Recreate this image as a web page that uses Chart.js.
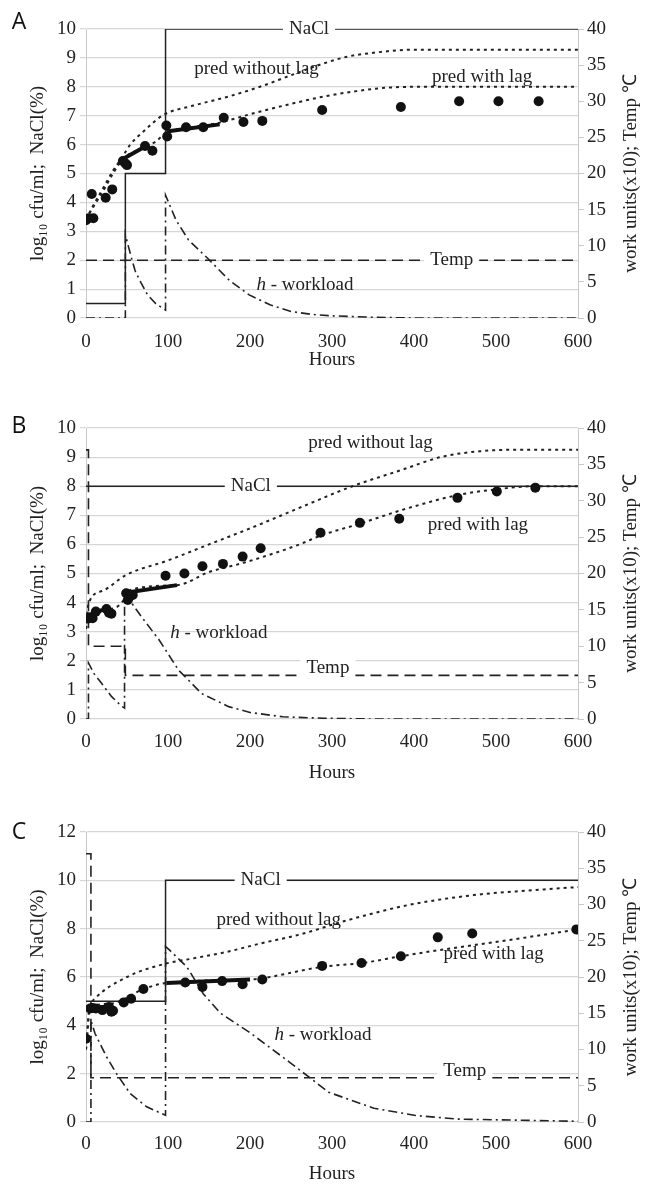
<!DOCTYPE html>
<html>
<head>
<meta charset="utf-8">
<script src="https://cdn.jsdelivr.net/npm/chart.js@4"></script>
<style>
  body { margin: 0; background: #fff; }
  canvas { position: absolute; left: 0; }
</style>
</head>
<body>
<canvas id="chartA" width="650" height="370" style="top:0px"></canvas>
<canvas id="chartB" width="650" height="393" style="top:390px"></canvas>
<canvas id="chartC" width="650" height="394" style="top:790px"></canvas>
<script>
/* global Chart */

// each series is a list of [hours, value]

// panel A
const aObserved = [[0, 3.38], [3, 3.45], [9, 3.45], [7, 4.29], [24, 4.16], [32, 4.45], [45, 5.43], [48, 5.35], [50, 5.29],
  [72, 5.95], [81, 5.79], [98, 6.66], [99, 6.28], [122, 6.6], [143, 6.6], [168, 6.93], [192, 6.78], [215, 6.82],
  [288, 7.2], [384, 7.3], [455, 7.5], [503, 7.5], [552, 7.5]];
const aFitted1 = [[45, 5.5], [70, 5.9]];
const aFitted2 = [[98, 6.45], [163, 6.7]];
const aPredNoLag = [[0, 3.4], [7, 3.8], [21, 4.5], [33, 5.1], [45, 5.6], [54, 6.0], [70, 6.45], [94, 7.02], [131, 7.35],
  [172, 7.65], [212, 8.0], [250, 8.4], [289, 8.8], [320, 9.05], [358, 9.2], [395, 9.28], [600, 9.28]];
const aPredLag = [[0, 3.4], [7, 3.75], [21, 4.4], [33, 5.0], [45, 5.5], [70, 5.9], [85, 6.1], [97, 6.4], [130, 6.6],
  [163, 6.76], [200, 7.05], [253, 7.43], [293, 7.68], [330, 7.85], [358, 7.95], [400, 8.0], [600, 8.0]];
const aNaCl = [[0, 0.5], [48, 5], [97, 10], [600, 10]];
const aTemp = [[0, 8], [600, 8]];
const aWorkload = [[0, 0], [48, 0], [48, 11.5], [55, 8.5], [60, 6.5], [67, 4.9], [75, 3.2], [85, 2], [97, 1.1], [97, 17],
  [110, 13.5], [125, 10.8], [148, 8.3], [175, 5.2], [199, 3.2], [225, 1.8], [250, 0.9], [275, 0.5], [300, 0.3],
  [350, 0.1], [400, 0], [600, 0]];

// panel B
const bObserved = [[2, 3.45], [5, 3.5], [8, 3.46], [12, 3.69], [25, 3.78], [28, 3.65], [31, 3.62], [49, 4.32], [51, 4.09],
  [53, 4.2], [57, 4.26], [97, 4.92], [120, 5.0], [142, 5.25], [167, 5.33], [191, 5.58], [213, 5.87], [286, 6.4],
  [334, 6.74], [382, 6.88], [453, 7.6], [501, 7.82], [548, 7.95]];
const bFitted1 = [[4, 3.55], [20, 3.75]];
const bFitted2 = [[50, 4.35], [111, 4.6]];
const bPredNoLag = [[0, 3.1], [3, 3.95], [20, 4.4], [49, 4.95], [100, 5.45], [150, 6.0], [200, 6.55], [264, 7.3],
  [325, 8.0], [385, 8.56], [434, 9.01], [480, 9.2], [520, 9.25], [600, 9.25]];
const bPredLag = [[0, 3.1], [4, 3.5], [25, 3.75], [48, 4.2], [50, 4.4], [111, 4.6], [150, 5.05], [190, 5.35], [230, 5.7],
  [264, 6.04], [286, 6.3], [335, 6.72], [385, 7.18], [454, 7.7], [500, 7.89], [547, 8.0], [600, 8.0]];
const bNaCl = [[0, 8], [600, 8]];
const bTemp = [[0, 37], [3, 10], [48, 6], [600, 6]];
const bWorkload = [[0, 0], [3, 0], [3, 7.7], [10, 6.2], [19, 4.9], [31, 3.1], [43, 1.8], [47, 1.5], [47, 17], [54, 16.2],
  [68, 14], [89, 10.9], [113, 6.7], [141, 3.5], [174, 1.7], [200, 0.9], [240, 0.3], [290, 0.1], [350, 0], [600, 0]];

// panel C
const cObserved = [[0, 3.45], [5, 4.7], [8, 4.72], [12, 4.7], [20, 4.63], [28, 4.76], [31, 4.56], [33, 4.6], [46, 4.95],
  [55, 5.1], [70, 5.5], [121, 5.77], [142, 5.59], [166, 5.83], [191, 5.7], [215, 5.9], [288, 6.46], [336, 6.58],
  [384, 6.86], [429, 7.64], [471, 7.8], [598, 7.97]];
const cFitted1 = [[5, 4.7], [30, 4.8]];
const cFitted2 = [[98, 5.75], [200, 5.9]];
const cPredNoLag = [[0, 3.0], [4, 4.7], [9, 5.04], [50, 6.0], [98, 6.56], [131, 6.77], [172, 7.04], [213, 7.39],
  [260, 7.75], [319, 8.35], [392, 8.97], [473, 9.39], [540, 9.58], [600, 9.72]];
const cPredLag = [[0, 3.0], [5, 4.7], [30, 4.9], [70, 5.5], [97, 5.75], [200, 5.9], [213, 5.94], [288, 6.42],
  [337, 6.58], [384, 6.86], [430, 7.11], [514, 7.52], [600, 7.97]];
const cNaCl = [[0, 5], [97, 10], [600, 10]];
const cTemp = [[0, 37], [6, 6.1], [600, 6.1]];
const cWorkload = [[0, 0], [6, 0], [6, 14], [11, 12.2], [25, 9.0], [37, 6.7], [54, 3.9], [74, 2.1], [97, 0.92], [97, 24.2],
  [102, 23.7], [123, 21.4], [143, 17.7], [164, 15], [199, 12.4], [250, 8.1], [296, 4.1], [351, 1.9], [402, 0.9],
  [453, 0.4], [600, 0.1]];

const serif = '"Liberation Serif", "Times New Roman", serif';
const ink = '#222';

function pts(arr) {
  return arr.map(p => ({ x: p[0], y: p[1] }));
}

// text written on the plot
const labelPlugin = {
  id: 'labels',
  afterDatasetsDraw(chart, args, opts) {
    const ctx = chart.ctx;
    const xs = chart.scales.x;
    ctx.save();
    ctx.textBaseline = 'middle';
    ctx.fillStyle = ink;
    for (const a of opts.items) {
      const px = xs.getPixelForValue(a.x);
      const py = chart.scales[a.axis].getPixelForValue(a.y);
      ctx.font = '19px ' + serif;
      let w = ctx.measureText(a.text).width;
      let hw = 0;
      if (a.italic) {
        ctx.font = 'italic 19px ' + serif;
        hw = ctx.measureText(a.italic).width;
      }
      const total = w + hw;
      if (a.bg) {
        ctx.fillStyle = '#fff';
        ctx.fillRect(px - total / 2 - 6, py - 11, total + 12, 22);
        ctx.fillStyle = ink;
      }
      ctx.textAlign = 'left';
      let x0 = px - total / 2;
      if (a.italic) {
        ctx.font = 'italic 19px ' + serif;
        ctx.fillText(a.italic, x0, py);
        x0 += hw;
      }
      ctx.font = '19px ' + serif;
      ctx.fillText(a.text, x0, py);
    }
    ctx.restore();
  },
  afterDraw(chart, args, opts) {
    const ctx = chart.ctx;
    const area = chart.chartArea;
    ctx.save();
    // right axis title, reads bottom to top
    ctx.translate(opts.rightTitleX, (area.top + area.bottom) / 2);
    ctx.rotate(-Math.PI / 2);
    ctx.textAlign = 'center';
    ctx.textBaseline = 'middle';
    ctx.fillStyle = ink;
    ctx.font = '19px ' + serif;
    ctx.fillText('work units(x10); Temp \u2103', 0, 0);
    ctx.restore();
    // panel letter
    ctx.save();
    ctx.font = '23px "Open Sans", sans-serif';
    ctx.fillStyle = '#111';
    ctx.textAlign = 'center';
    ctx.textBaseline = 'middle';
    ctx.fillText(opts.letter, 19, opts.letterY);
    ctx.restore();
  },
};

function makePanel(id, p) {
  const datasets = [
    {
      data: pts(p.observed), showLine: false, pointRadius: 5, pointHoverRadius: 5,
      pointBackgroundColor: '#111', pointBorderWidth: 0, yAxisID: 'y',
    },
    { data: pts(p.fitted1), borderColor: '#111', borderWidth: 4, pointRadius: 0, yAxisID: 'y' },
    { data: pts(p.fitted2), borderColor: '#111', borderWidth: 4, pointRadius: 0, yAxisID: 'y' },
    {
      data: pts(p.predNoLag), borderColor: '#222', borderWidth: 2, borderDash: [3, 4], pointRadius: 0,
      cubicInterpolationMode: 'monotone', yAxisID: 'y',
    },
    {
      data: pts(p.predLag), borderColor: '#222', borderWidth: 2, borderDash: [3, 4], pointRadius: 0,
      cubicInterpolationMode: 'monotone', yAxisID: 'y',
    },
    { data: pts(p.nacl), borderColor: '#222', borderWidth: 1.5, stepped: true, pointRadius: 0, yAxisID: 'y' },
    {
      data: pts(p.temp), borderColor: '#222', borderWidth: 1.6, borderDash: [11, 6], stepped: true,
      pointRadius: 0, yAxisID: 'y2',
    },
    {
      data: pts(p.workload), borderColor: '#222', borderWidth: 1.6, borderDash: [9, 4, 2, 4], pointRadius: 0,
      yAxisID: 'y2',
    },
  ];

  return new Chart(document.getElementById(id), {
    type: 'line',
    data: { datasets: datasets },
    plugins: [labelPlugin],
    options: {
      responsive: false,
      animation: false,
      layout: { padding: { top: p.padTop, left: 0, right: 0, bottom: 0 } },
      plugins: {
        legend: { display: false },
        tooltip: { enabled: false },
        labels: { items: p.labels, letter: p.letter, letterY: p.letterY, rightTitleX: 631 },
      },
      scales: {
        x: {
          type: 'linear', min: 0, max: 600,
          ticks: { stepSize: 100, color: ink, font: { family: serif, size: 19 }, padding: p.xTickPad, maxRotation: 0 },
          grid: { display: false },
          border: { display: false },
          title: {
            display: true, text: 'Hours', color: ink, font: { family: serif, size: 19, lineHeight: 1 }, padding: 0,
          },
          afterFit(s) { s.height = p.xHeight; },
        },
        y: {
          position: 'left', min: 0, max: p.yMax,
          ticks: { stepSize: p.yStep, color: ink, font: { family: serif, size: 19 }, padding: 4 },
          grid: { color: '#d6d6d6', tickLength: 6, lineWidth: 1.2 },
          border: { color: '#c8c8c8' },
          title: {
            display: true, text: 'log\u2081\u2080 cfu/ml;  NaCl(%)', color: ink,
            font: { family: serif, size: 19 }, padding: { top: 27, bottom: 0 },
          },
          afterFit(s) { s.width = 86; },
        },
        y2: {
          position: 'right', min: 0, max: 40,
          ticks: { stepSize: 5, color: ink, font: { family: serif, size: 19 }, padding: 3 },
          grid: { drawOnChartArea: false, color: '#c8c8c8', tickLength: 6 },
          border: { color: '#c8c8c8' },
          afterFit(s) { s.width = 72; },
        },
      },
    },
  });
}

makePanel('chartA', {
  observed: aObserved, fitted1: aFitted1, fitted2: aFitted2, predNoLag: aPredNoLag, predLag: aPredLag,
  nacl: aNaCl, temp: aTemp, workload: aWorkload,
  yMax: 10, yStep: 1, padTop: 29, xHeight: 52, xTickPad: 5, letter: 'A', letterY: 22,
  labels: [
    { text: 'NaCl', x: 272, y: 10, axis: 'y', bg: true },
    { text: 'pred without lag', x: 208, y: 8.6, axis: 'y' },
    { text: 'pred with lag', x: 483, y: 8.33, axis: 'y' },
    { text: ' - workload', italic: 'h', x: 267, y: 4.6, axis: 'y2' },
    { text: 'Temp', x: 446, y: 8, axis: 'y2', bg: true },
  ],
});

makePanel('chartB', {
  observed: bObserved, fitted1: bFitted1, fitted2: bFitted2, predNoLag: bPredNoLag, predLag: bPredLag,
  nacl: bNaCl, temp: bTemp, workload: bWorkload,
  yMax: 10, yStep: 1, padTop: 38, xHeight: 64, xTickPad: 4, letter: 'B', letterY: 36,
  labels: [
    { text: 'pred without lag', x: 347, y: 9.47, axis: 'y' },
    { text: 'NaCl', x: 201, y: 8, axis: 'y', bg: true },
    { text: 'pred with lag', x: 478, y: 6.67, axis: 'y' },
    { text: ' - workload', italic: 'h', x: 162, y: 11.8, axis: 'y2' },
    { text: 'Temp', x: 295, y: 7, axis: 'y2', bg: true },
  ],
});

makePanel('chartC', {
  observed: cObserved, fitted1: cFitted1, fitted2: cFitted2, predNoLag: cPredNoLag, predLag: cPredLag,
  nacl: cNaCl, temp: cTemp, workload: cWorkload,
  yMax: 12, yStep: 2, padTop: 42, xHeight: 62, xTickPad: 3, letter: 'C', letterY: 42,
  labels: [
    { text: 'NaCl', x: 213, y: 10, axis: 'y', bg: true },
    { text: 'pred without lag', x: 235, y: 8.35, axis: 'y' },
    { text: 'pred with lag', x: 497, y: 6.95, axis: 'y' },
    { text: ' - workload', italic: 'h', x: 289, y: 12, axis: 'y2' },
    { text: 'Temp', x: 462, y: 7.1, axis: 'y2', bg: true },
  ],
});
</script>
</body>
</html>
